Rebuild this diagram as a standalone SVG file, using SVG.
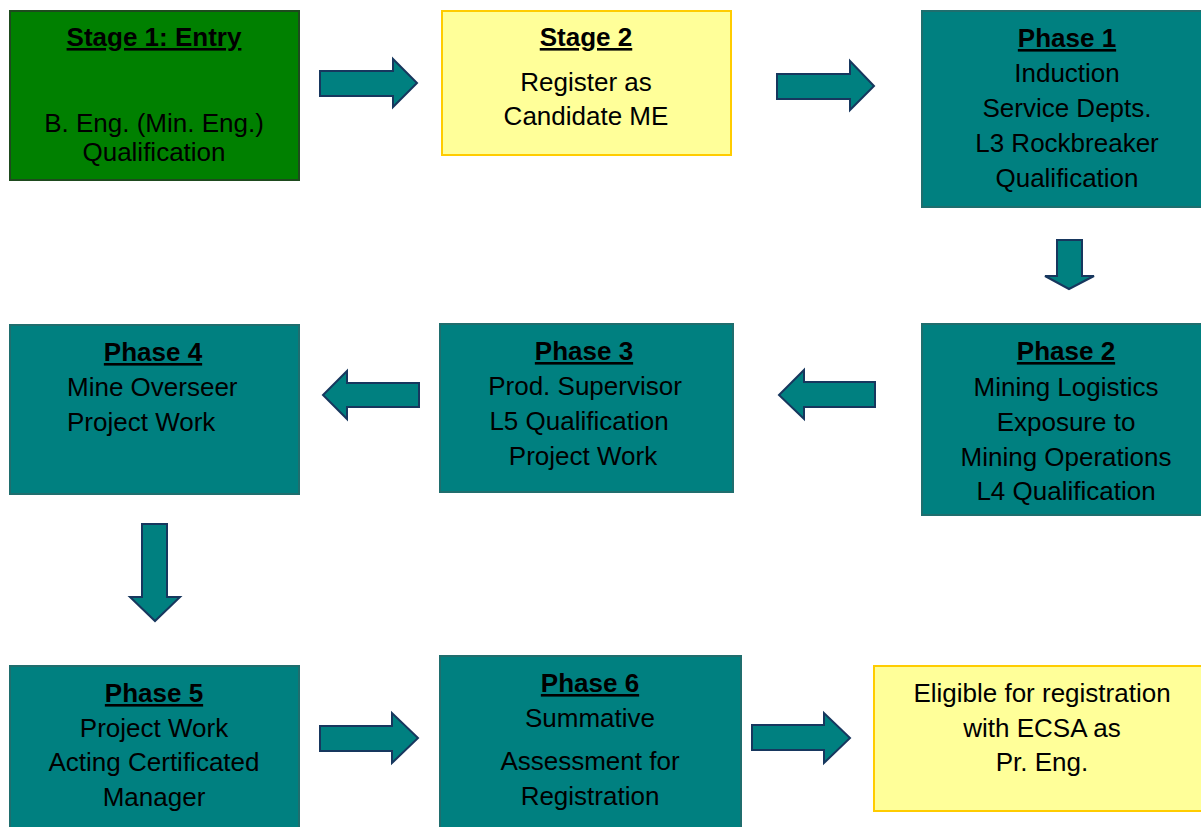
<svg xmlns="http://www.w3.org/2000/svg" width="1201" height="827" viewBox="0 0 1201 827">
<style>
text{font-family:"Liberation Sans",Arial,sans-serif;font-size:26px;fill:#000;text-anchor:middle}
.t{font-weight:bold;text-decoration:underline}
.teal{fill:#008080;stroke:#1F6E6E;stroke-width:2}
.green{fill:#008000;stroke:#1E4A1E;stroke-width:2}
.yel{fill:#FFFF99;stroke:#FFCC00;stroke-width:2}
.arr{fill:#008080;stroke:#17375E;stroke-width:2;stroke-linejoin:miter}
</style>
<rect width="1201" height="827" fill="#fff"/>
<g id="stage1">
<rect class="green" x="10" y="11" width="289" height="169"/>
<text class="t" x="154" y="46">Stage 1: Entry</text>
<text x="154" y="132">B. Eng. (Min. Eng.)</text>
<text x="154" y="161">Qualification</text>
</g>
<g id="stage2">
<rect class="yel" x="442" y="11" width="289" height="144"/>
<text class="t" x="586" y="46">Stage 2</text>
<text x="586" y="91">Register as</text>
<text x="586" y="125">Candidate ME</text>
</g>
<g id="phase1">
<rect class="teal" x="922" y="11" width="290" height="196"/>
<text class="t" x="1067" y="47">Phase 1</text>
<text x="1067" y="82">Induction</text>
<text x="1067" y="117">Service Depts.</text>
<text x="1067" y="152">L3 Rockbreaker</text>
<text x="1067" y="187">Qualification</text>
</g>
<g id="phase2">
<rect class="teal" x="922" y="324" width="290" height="191"/>
<text class="t" x="1066" y="360">Phase 2</text>
<text x="1066" y="396">Mining Logistics</text>
<text x="1066" y="431">Exposure to</text>
<text x="1066" y="466">Mining Operations</text>
<text x="1066" y="500">L4 Qualification</text>
</g>
<g id="phase3">
<rect class="teal" x="440" y="324" width="293" height="168"/>
<text class="t" x="584" y="360">Phase 3</text>
<text x="585" y="395">Prod. Supervisor</text>
<text x="579" y="430">L5 Qualification</text>
<text x="583" y="465">Project Work</text>
</g>
<g id="phase4">
<rect class="teal" x="10" y="325" width="289" height="169"/>
<text class="t" x="153" y="361">Phase 4</text>
<text x="67" y="396" style="text-anchor:start">Mine Overseer</text>
<text x="67" y="431" style="text-anchor:start">Project Work</text>
</g>
<g id="phase5">
<rect class="teal" x="10" y="666" width="289" height="170"/>
<text class="t" x="154" y="702">Phase 5</text>
<text x="154" y="737">Project Work</text>
<text x="154" y="771">Acting Certificated</text>
<text x="154" y="806">Manager</text>
</g>
<g id="phase6">
<rect class="teal" x="440" y="656" width="301" height="180"/>
<text class="t" x="590" y="692">Phase 6</text>
<text x="590" y="727">Summative</text>
<text x="590" y="770">Assessment for</text>
<text x="590" y="805">Registration</text>
</g>
<g id="eligible">
<rect class="yel" x="874" y="666" width="340" height="145"/>
<text x="1042" y="702">Eligible for registration</text>
<text x="1042" y="737">with ECSA as</text>
<text x="1042" y="771">Pr. Eng.</text>
</g>
<g id="connectors">
<polygon class="arr" points="320,71 393,71 393,59 417,83 393,107 393,96 320,96"/>
<polygon class="arr" points="777,74 850,74 850,61 874,86 850,110 850,99 777,99"/>
<polygon class="arr" points="1057,240 1082,240 1082,276 1094,276 1069,289 1045,276 1057,276"/>
<polygon class="arr" points="875,382 804,382 804,370 779,395 804,419 804,407 875,407"/>
<polygon class="arr" points="419,383 347,383 347,371 323,395 347,419 347,407 419,407"/>
<polygon class="arr" points="142,524 167,524 167,597 180,597 155,621 130,597 142,597"/>
<polygon class="arr" points="320,726 392,726 392,713 418,738 392,763 392,751 320,751"/>
<polygon class="arr" points="752,725 824,725 824,713 850,738 824,763 824,750 752,750"/>
</g>
</svg>
